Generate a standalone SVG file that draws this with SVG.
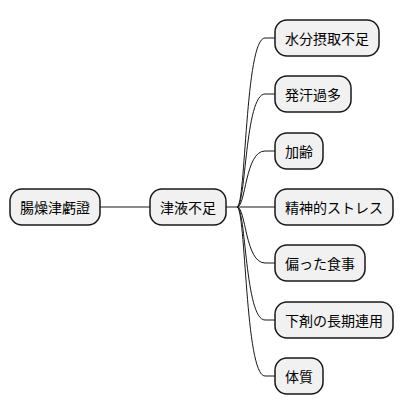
<svg xmlns="http://www.w3.org/2000/svg" width="404" height="415" viewBox="0 0 404 415">
<style>
.n rect{fill:#f1f1f1;stroke:#181818;stroke-width:1.5}
.n text{font-family:"Noto Sans CJK JP","Noto Sans CJK SC",sans-serif;font-size:14px;fill:#000;dominant-baseline:central}
.c path{fill:none;stroke:#181818;stroke-width:1}
</style>
<rect width="404" height="415" fill="#fff"/>
<g class="c" id="connectors">
<path d="M100,207 L150,207"/>
<path d="M226,207 L237,207"/>
<path d="M237,207 C246,207 245,38 265,38 L275,38"/>
<path d="M237,207 C246,207 245,94 265,94 L275,94"/>
<path d="M237,207 C246,207 245,151 265,151 L275,151"/>
<path d="M237,207 L275,207"/>
<path d="M237,207 C246,207 245,263 265,263 L275,263"/>
<path d="M237,207 C246,207 245,320 265,320 L275,320"/>
<path d="M237,207 C246,207 245,376 265,376 L275,376"/>
</g>
<g class="n" id="root"><rect x="10" y="189" width="90" height="36" rx="12"/><text x="20" y="207">腸燥津虧證</text></g>
<g class="n" id="n1"><rect x="150" y="189" width="76" height="36" rx="12"/><text x="160" y="207">津液不足</text></g>
<g class="n" id="l1"><rect x="275" y="20" width="104" height="36" rx="12"/><text x="285" y="38">水分摂取不足</text></g>
<g class="n" id="l2"><rect x="275" y="76" width="76" height="36" rx="12"/><text x="285" y="94">発汗過多</text></g>
<g class="n" id="l3"><rect x="275" y="133" width="48" height="36" rx="12"/><text x="285" y="151">加齢</text></g>
<g class="n" id="l4"><rect x="275" y="189" width="118" height="36" rx="12"/><text x="285" y="207">精神的ストレス</text></g>
<g class="n" id="l5"><rect x="275" y="245" width="90" height="36" rx="12"/><text x="285" y="263">偏った食事</text></g>
<g class="n" id="l6"><rect x="275" y="302" width="118" height="36" rx="12"/><text x="285" y="320">下剤の長期連用</text></g>
<g class="n" id="l7"><rect x="275" y="358" width="48" height="36" rx="12"/><text x="285" y="376">体質</text></g>
</svg>
